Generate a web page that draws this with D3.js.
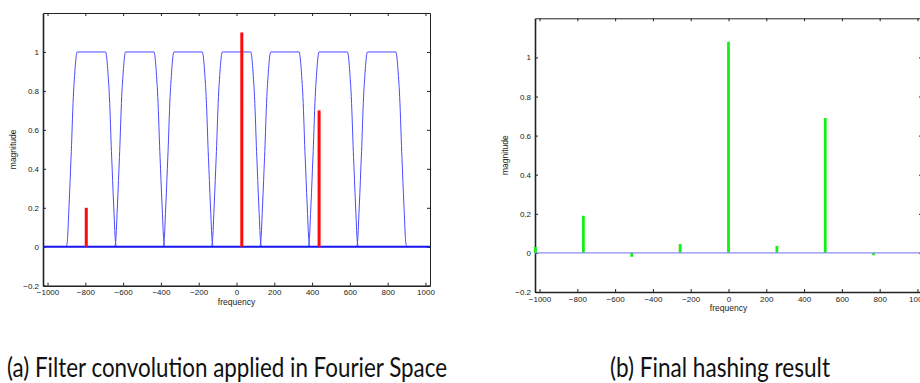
<!DOCTYPE html>
<html>
<head>
<meta charset="utf-8">
<script src="https://cdn.jsdelivr.net/npm/d3@7"></script>
<style>
  body { margin: 0; background: #fff; }
  .tick text { font-family: "Liberation Sans", Arial, sans-serif; font-size: 8px; fill: #222; }
  .axis path, .axis line { stroke: #222; }
  .axlabel { font-family: "Liberation Sans", Arial, sans-serif; font-size: 8.5px; fill: #222; }
  .caption { font-family: "Lato", "Liberation Sans Narrow", sans-serif; font-size: 26px; fill: #111; }
</style>
</head>
<body>
<svg id="chart" width="920" height="383"></svg>
<script>
// ---- data ----
const freqTicks = [-1000, -800, -600, -400, -200, 0, 200, 400, 600, 800, 1000];
const magTicks = [-0.2, 0, 0.2, 0.4, 0.6, 0.8, 1];

// flat-top filter windows (a): centres and one window's profile (offset from centre, magnitude)
const filterCenters = [-768, -512, -256, 0, 256, 512, 768];
const filterOffsets = [-134, -128, -125, -120, -115, -110, -105, -100, -94, -90, -85, -80, -75,
                       75, 80, 85, 90, 94, 100, 105, 110, 115, 120, 125, 128, 134];
const filterMags = [0, 0.02, 0.06, 0.17, 0.28, 0.4, 0.52, 0.66, 0.8, 0.86, 0.93, 0.98, 1,
                    1, 0.98, 0.93, 0.86, 0.8, 0.66, 0.52, 0.4, 0.28, 0.17, 0.06, 0.02, 0];

// signal spikes (a)
const signalFreqs = [-795, 28, 437];
const signalMags = [0.2, 1.1, 0.7];

// hashing result (b)
const hashFreqs = [-1022, -768, -512, -256, 0, 256, 512, 768];
const hashMags = [0.03, 0.19, -0.02, 0.045, 1.08, 0.036, 0.69, -0.012];

const captions = ["(a) Filter convolution applied in Fourier Space", "(b) Final hashing result"];

const svg = d3.select("#chart");

function drawPanel(box) {
  const g = svg.append("g");
  const x = d3.scaleLinear().domain([-1024, 1024]).range([box.left, box.right]);
  const y = d3.scaleLinear().domain([-0.2, 1.2]).range([box.bottom, box.top]);

  // axes: ticks pointing inward on all four sides
  g.append("g").attr("class", "axis")
    .attr("transform", `translate(0,${box.bottom})`)
    .call(d3.axisBottom(x).tickValues(freqTicks).tickSizeInner(-3).tickSizeOuter(0).tickPadding(4)
      .tickFormat(d3.format("~g")))
    .call(s => s.select(".domain").attr("stroke-width", 1.6));
  g.append("g").attr("class", "axis")
    .attr("transform", `translate(0,${box.top})`)
    .call(d3.axisTop(x).tickValues(freqTicks).tickSizeInner(-3).tickSizeOuter(0).tickFormat(""));
  g.append("g").attr("class", "axis")
    .attr("transform", `translate(${box.left},0)`)
    .call(d3.axisLeft(y).tickValues(magTicks).tickSizeInner(-3).tickSizeOuter(0).tickPadding(4)
      .tickFormat(d3.format("~g")))
    .call(s => s.select(".domain").attr("stroke-width", 1.6));
  g.append("g").attr("class", "axis")
    .attr("transform", `translate(${box.right},0)`)
    .call(d3.axisRight(y).tickValues(magTicks).tickSizeInner(-3).tickSizeOuter(0).tickFormat(""));

  g.append("text").attr("class", "axlabel")
    .attr("x", (box.left + box.right) / 2 + (x(0) - (box.left + box.right) / 2))
    .attr("y", box.bottom + 19)
    .attr("text-anchor", "middle")
    .text("frequency");
  g.append("text").attr("class", "axlabel")
    .attr("transform", `translate(${box.left - 27},${y(0.5)}) rotate(-90)`)
    .attr("text-anchor", "middle")
    .text("magnitude");

  return { g, x, y };
}

// panel (a)
const a = drawPanel({ left: 43, right: 430, top: 13, bottom: 285.7 });
const win = d3.line()
  .x(d => a.x(d[0]))
  .y(d => a.y(d[1]))
  .curve(d3.curveMonotoneX);
const plotA = a.g.append("g");
filterCenters.forEach(c => {
  plotA.append("path")
    .attr("d", win(filterOffsets.map((o, i) => [c + o, filterMags[i]])))
    .attr("fill", "none")
    .attr("stroke", "#4a4aff")
    .attr("stroke-width", 1);
});
plotA.append("line")
  .attr("x1", a.x(-1024)).attr("x2", a.x(1024))
  .attr("y1", a.y(0)).attr("y2", a.y(0))
  .attr("stroke", "#1515ee").attr("stroke-width", 1.8);
plotA.selectAll(".spike").data(signalFreqs).enter().append("line")
  .attr("class", "spike")
  .attr("x1", d => a.x(d)).attr("x2", d => a.x(d))
  .attr("y1", a.y(0)).attr("y2", (d, i) => a.y(signalMags[i]))
  .attr("stroke", "#ff0a0a").attr("stroke-width", 3);

// panel (b)
const b = drawPanel({ left: 535, right: 922, top: 18.3, bottom: 292 });
const plotB = b.g.append("g");
plotB.selectAll(".hash").data(hashFreqs).enter().append("line")
  .attr("class", "hash")
  .attr("x1", d => b.x(d)).attr("x2", d => b.x(d))
  .attr("y1", b.y(0)).attr("y2", (d, i) => b.y(hashMags[i]))
  .attr("stroke", "#14f014").attr("stroke-width", 2.8);
plotB.append("line")
  .attr("x1", b.x(-1024)).attr("x2", b.x(1024))
  .attr("y1", b.y(0)).attr("y2", b.y(0))
  .attr("stroke", "#8c8cf2").attr("stroke-width", 1.4);

// captions
svg.append("text").attr("class", "caption")
  .attr("x", 7).attr("y", 377)
  .attr("textLength", 440).attr("lengthAdjust", "spacingAndGlyphs")
  .text(captions[0]);
svg.append("text").attr("class", "caption")
  .attr("x", 610).attr("y", 377)
  .attr("textLength", 220).attr("lengthAdjust", "spacingAndGlyphs")
  .text(captions[1]);
</script>
</body>
</html>
